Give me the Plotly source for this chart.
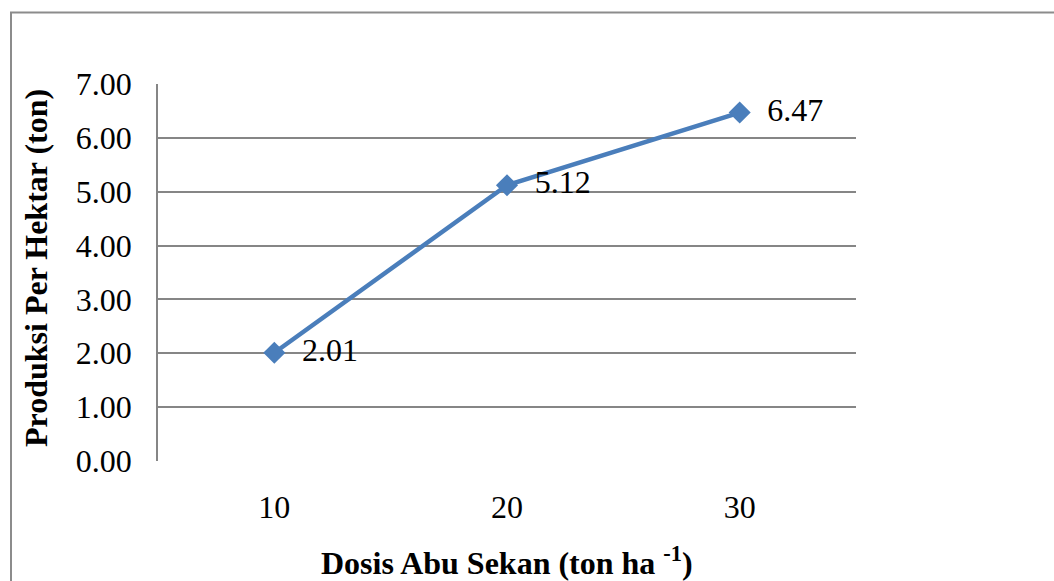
import plotly.graph_objects as go

categories = ["10", "20", "30"]
values = [2.01, 5.12, 6.47]
value_labels = ["2.01", "5.12", "6.47"]
y_ticks = [0, 1, 2, 3, 4, 5, 6, 7]

W, H = 1054, 581
L, T = 158, 84
pw, ph = 698, 377
R, B = W - L - pw, H - T - ph

FONT = "Liberation Serif, Times New Roman, serif"
NB = "\u00a0\u00a0"

fig = go.Figure()
fig.add_trace(go.Scatter(
    x=categories, y=values,
    mode="lines+markers+text",
    text=[NB + t for t in value_labels],
    textposition="middle right",
    textfont=dict(family=FONT, size=32, color="black"),
    line=dict(color="#4a7ebb", width=4.5),
    marker=dict(symbol="diamond", size=17, color="#4a7ebb"),
    cliponaxis=False,
    showlegend=False,
))

# outer chart border (cropped on right and bottom)
bx0 = (11 - L) / pw
by1 = (T + ph - 12.5) / ph
fig.add_shape(type="rect", xref="paper", yref="paper",
              x0=bx0, x1=3, y0=-3, y1=by1,
              line=dict(color="#8c8c8c", width=2), fillcolor="rgba(0,0,0,0)", layer="below")

fig.add_annotation(text="<b>Dosis Abu Sekan (ton ha <sup>-1</sup>)</b>", xref="paper", yref="paper",
                   x=0.5, y=-(561 - 461) / ph, showarrow=False,
                   font=dict(family=FONT, size=32, color="black"), xanchor="center", yanchor="middle")
fig.add_annotation(text="<b>Produksi Per Hektar (ton)</b>", xref="paper", yref="paper",
                   x=(36 - 158) / pw, y=(461 - 268) / ph, showarrow=False, textangle=-90,
                   font=dict(family=FONT, size=32, color="black"), xanchor="center", yanchor="middle")

fig.update_layout(
    width=W, height=H,
    margin=dict(l=L, r=R, t=T, b=B),
    paper_bgcolor="white", plot_bgcolor="white",
    font=dict(family=FONT, size=32, color="black"),
)
fig.update_xaxes(
    type="category", range=[-0.5, 2.5], showgrid=False, showline=False, zeroline=False,
    ticks="", ticklabelstandoff=24,
    tickfont=dict(family=FONT, size=32, color="black"),
)
fig.update_yaxes(
    range=[0, 7], tickvals=y_ticks, tickformat=".2f",
    showgrid=True, gridcolor="#868686", gridwidth=1.5,
    showline=True, linecolor="#868686", linewidth=1.5,
    zeroline=False, ticks="", ticklabelstandoff=18,
    tickfont=dict(family=FONT, size=32, color="black"),
)

fig.write_html(
    "out.html",
    config={"displayModeBar": False},
    post_script="document.body.style.margin='0';document.body.style.overflow='hidden';",
)
